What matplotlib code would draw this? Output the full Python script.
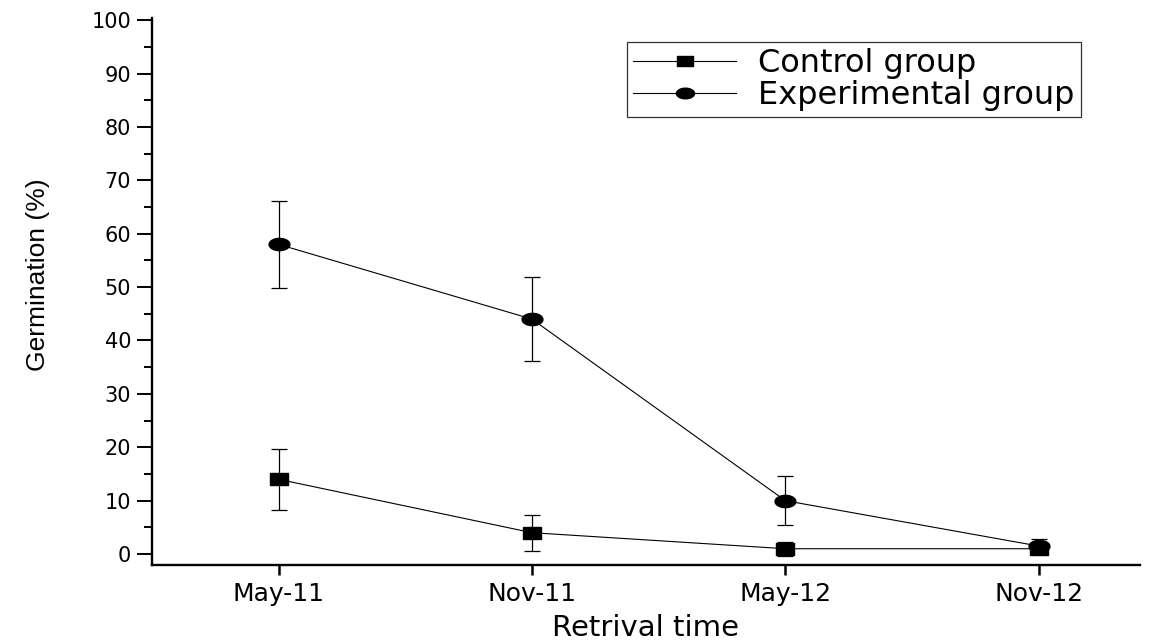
import matplotlib
matplotlib.use("Agg")
import matplotlib.pyplot as plt
from matplotlib.path import Path
from matplotlib.lines import Line2D
import numpy as np

categories = ["May-11", "Nov-11", "May-12", "Nov-12"]
control = [14.0, 4.0, 1.0, 1.0]
control_err = [5.7, 3.4, 1.3, 0.5]
experimental = [58.0, 44.0, 10.0, 1.5]
experimental_err = [8.2, 7.9, 4.6, 1.3]
yticks = [0, 10, 20, 30, 40, 50, 60, 70, 80, 90, 100]

plt.rcParams["font.family"] = ["DejaVu Sans"]

# stretched markers (wider than tall, like the reference)
sq = Path([(-0.8, -0.5), (0.8, -0.5), (0.8, 0.5), (-0.8, 0.5), (-0.8, -0.5)],
          [Path.MOVETO, Path.LINETO, Path.LINETO, Path.LINETO, Path.CLOSEPOLY])
t = np.linspace(0, 2 * np.pi, 60)
ell = Path(np.column_stack([0.85 * np.cos(t), 0.5 * np.sin(t)]))

fig = plt.figure(figsize=(11.54, 6.42), dpi=100)
W, H = 1154, 642
ax = fig.add_axes([152 / W, (H - 565) / H, (1140 - 152) / W, (565 - 18) / H])

x = np.arange(1, len(categories) + 1)
ax.errorbar(x, control, yerr=control_err, color="black", lw=0.8, elinewidth=0.9,
            capsize=6, capthick=0.9, marker=sq, ms=13, mfc="black", mec="black", zorder=3)
ax.errorbar(x, experimental, yerr=experimental_err, color="black", lw=0.8, elinewidth=0.9,
            capsize=6, capthick=0.9, marker=ell, ms=15, mfc="black", mec="black", zorder=3)

ax.set_xlim(0.5, 4.4)
ax.set_ylim(-2.05, 100.4)
ax.set_xticks(x)
ax.set_xticklabels(categories, fontsize=18)
ax.set_yticks(yticks)
ax.set_yticklabels([str(v) for v in yticks], fontsize=15)
ax.set_yticks(np.arange(5, 100, 10), minor=True)

for s in ["top", "right"]:
    ax.spines[s].set_visible(False)
for s in ["left", "bottom"]:
    ax.spines[s].set_linewidth(1.7)

ax.tick_params(axis="y", which="major", direction="out", length=11, width=1.4, pad=4)
ax.tick_params(axis="y", which="minor", direction="out", length=6, width=1.4)
ax.tick_params(axis="x", which="major", direction="out", length=7, width=1.8, pad=5)

ax.set_xlabel("Retrival time", fontsize=21, labelpad=6)
ax.set_ylabel("Germination (%)", fontsize=19, family=["Liberation Sans", "DejaVu Sans"])
ax.yaxis.set_label_coords(-0.103, 0.53)

handles = [
    Line2D([], [], color="black", lw=0.8, marker=sq, ms=11, mfc="black", mec="black"),
    Line2D([], [], color="black", lw=0.8, marker=ell, ms=13, mfc="black", mec="black"),
]
labels = ["Control group", "Experimental group"]
leg = ax.legend(handles, labels, loc="upper left",
                bbox_to_anchor=(627 / W, 1 - 42 / H), bbox_transform=fig.transFigure,
                borderaxespad=0, fontsize=23, frameon=True, fancybox=False,
                edgecolor="black", handlelength=3.2, handletextpad=0.7,
                borderpad=0.2, labelspacing=0.02)
leg.get_frame().set_linewidth(0.9)

fig.savefig("out.png", dpi=100)
